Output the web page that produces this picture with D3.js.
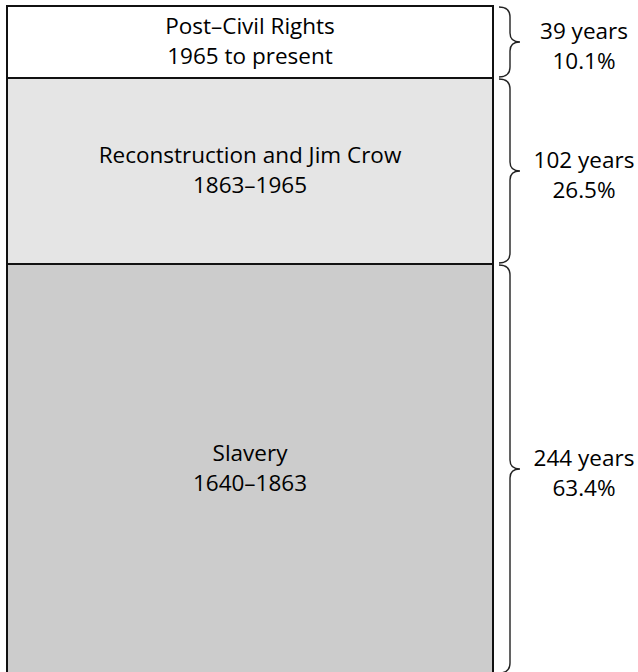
<!DOCTYPE html>
<html>
<head>
<meta charset="utf-8">
<script src="https://cdn.jsdelivr.net/npm/d3@7"></script>
<style>
  body { margin: 0; background: #fff; }
  svg { display: block; }
  text { font-family: "Open Sans", "Noto Sans", sans-serif; fill: #000; }
</style>
</head>
<body>
<svg class="eras" width="638" height="672"></svg>
<script>
// eras, bottom of the stack first
var eras = ["Slavery", "Reconstruction and Jim Crow", "Post\u2013Civil Rights"];
var spans = ["1640\u20131863", "1863\u20131965", "1965 to present"];
var years = [244, 102, 39];
var shares = ["63.4%", "26.5%", "10.1%"];
var fills = ["#cccccc", "#e5e5e5", "#ffffff"];

(function erasIIFE() {
    var svg = d3.select("svg.eras"),
        left = 7, right = 493,
        fontSize = 22.5;

    // stack from the top (present) downwards
    var data = eras.map(function(e, i) {
        return {era: e, span: spans[i], years: years[i], share: shares[i], fill: fills[i]};
    }).reverse();

    var acc = 0;
    data.forEach(function(d) {
        d.y0 = acc;
        acc += d.years;
        d.y1 = acc;
    });

    // the drawing is not strictly proportional, so the scale is piecewise
    var y = d3.scaleLinear()
        .domain([0, data[0].y1, data[1].y1, data[2].y1])
        .range([6, 78, 264, 674]);

    var g = svg.append("g");

    var seg = g.selectAll("g.seg")
        .data(data)
        .enter().append("g")
        .attr("class", "seg");

    seg.append("rect")
        .attr("x", left)
        .attr("y", function(d) { return y(d.y0); })
        .attr("width", right - left)
        .attr("height", function(d) { return y(d.y1) - y(d.y0); })
        .attr("fill", function(d) { return d.fill; })
        .attr("stroke", "#111")
        .attr("stroke-width", 2);

    function mid(d) { return (y(d.y0) + y(d.y1)) / 2; }

    seg.append("text")
        .attr("x", (left + right) / 2)
        .attr("y", function(d) { return mid(d) - 8; })
        .attr("text-anchor", "middle")
        .style("font-size", fontSize + "px")
        .text(function(d) { return d.era; });

    seg.append("text")
        .attr("x", (left + right) / 2)
        .attr("y", function(d) { return mid(d) + 22; })
        .attr("text-anchor", "middle")
        .style("font-size", fontSize + "px")
        .text(function(d) { return d.span; });

    // curly braces
    function brace(a, b) {
        var x0 = 499, x1 = 510, tip = 520, m = (a + b) / 2;
        return "M" + x0 + "," + a +
            "Q" + x1 + "," + a + " " + x1 + "," + (a + 10) +
            "L" + x1 + "," + (m - 9) +
            "Q" + x1 + "," + m + " " + tip + "," + m +
            "Q" + x1 + "," + m + " " + x1 + "," + (m + 9) +
            "L" + x1 + "," + (b - 10) +
            "Q" + x1 + "," + b + " " + x0 + "," + b;
    }

    seg.append("path")
        .attr("d", function(d) { return brace(y(d.y0) + 1, y(d.y1) - 1); })
        .attr("fill", "none")
        .attr("stroke", "#222")
        .attr("stroke-width", 1.4);

    seg.append("text")
        .attr("x", 584)
        .attr("y", function(d) { return mid(d) - 3; })
        .attr("text-anchor", "middle")
        .style("font-size", fontSize + "px")
        .text(function(d) { return d.years + " years"; });

    seg.append("text")
        .attr("x", 584)
        .attr("y", function(d) { return mid(d) + 27; })
        .attr("text-anchor", "middle")
        .style("font-size", fontSize + "px")
        .text(function(d) { return d.share; });
})();
</script>
</body>
</html>
